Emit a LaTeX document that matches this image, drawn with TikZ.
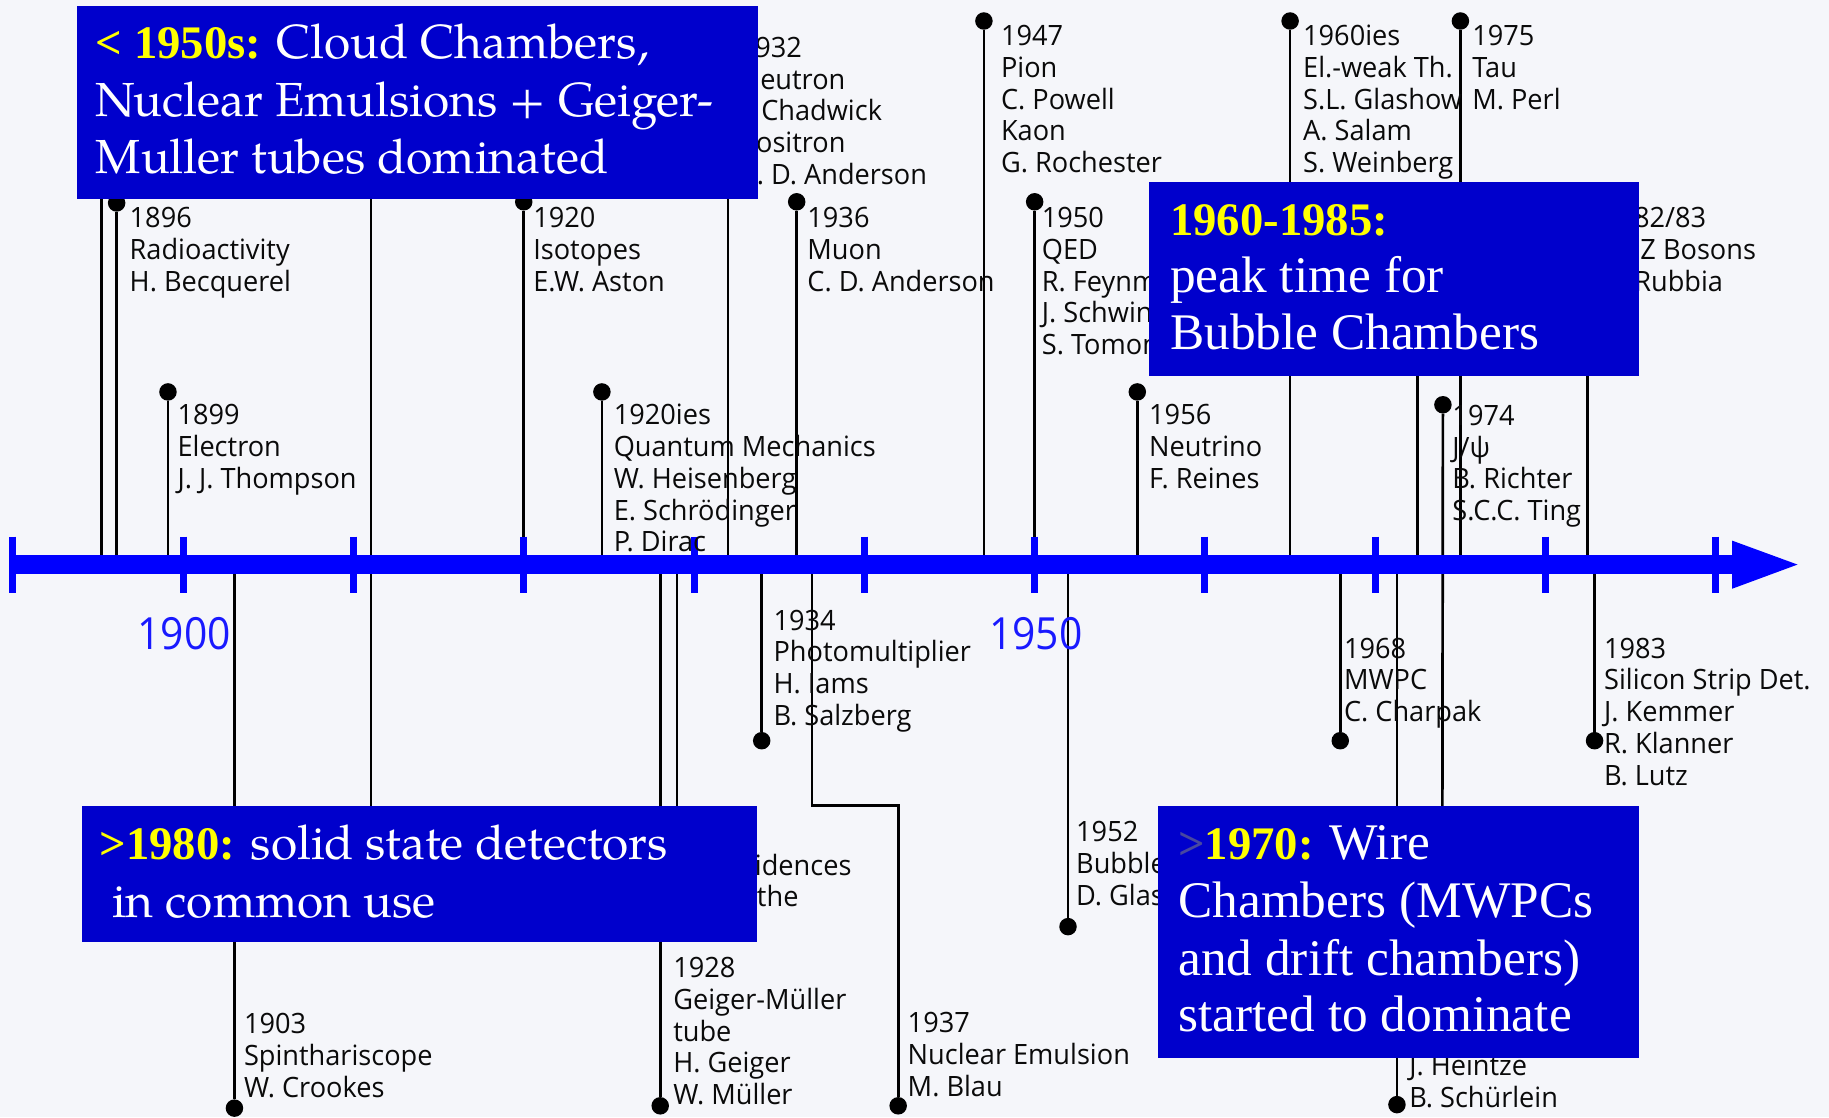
\documentclass[tikz,border=0pt]{standalone}
\usepackage{fontspec}
\newfontfamily\evfont{Open Sans}[FakeStretch=0.97]
\newfontfamily\yrfont{Open Sans}[FakeStretch=0.92]
\newfontfamily\palfont{texgyrepagella-regular.otf}
\newfontfamily\tmsfont{Liberation Serif}
\definecolor{bgc}{RGB}{245,246,250}
\definecolor{boxblue}{RGB}{0,0,204}
\definecolor{axblue}{RGB}{0,0,255}
\definecolor{yearblue}{RGB}{25,25,255}
\definecolor{hlyel}{RGB}{255,255,0}
\definecolor{gtblue}{RGB}{72,72,160}
\definecolor{evtext}{RGB}{10,10,10}
\newcommand{\ftop}{\rule{0pt}{20pt}}
\newcommand{\palf}{\palfont\fontsize{41}{49}\selectfont}
\newcommand{\tmsf}{\tmsfont\fontsize{44}{49}\selectfont}
\newcommand{\hlf}{\tmsfont\bfseries\fontsize{40}{49}\selectfont}
\begin{document}
\begin{tikzpicture}[x=1pt,y=-1pt,
  stem/.style={line width=2.3pt, draw=black},
  dotn/.style={circle, fill=black, inner sep=0pt, minimum size=15pt},
  evlab/.style={anchor=north west, inner sep=0pt, align=left, text=evtext, font=\evfont\fontsize{24}{27.2}\selectfont},
  yearlab/.style={inner sep=0pt, text=yearblue, font=\yrfont\fontsize{38}{40}\selectfont},
  bluebox/.style={fill=boxblue, draw=none, inner sep=0pt, anchor=north west},
  boxline/.style={anchor=base west, inner sep=0pt, text=white},
  axbar/.style={line width=17pt, draw=axblue},
  axtick/.style={line width=6pt, draw=axblue}]
\path[use as bounding box, fill=bgc] (0,0) rectangle (1568,958);

% ---------- dots ----------
\node[dotn] (d1896) at (100,174) {};
\node[dotn] (d1899) at (144,336) {};
\node[dotn] (d1920) at (449,173) {};
\node[dotn] (d1920ies) at (516,336) {};
\node[dotn] (d1936) at (683,173) {};
\node[dotn] (d1947) at (843.5,18) {};
\node[dotn] (d1950) at (887,173) {};
\node[dotn] (d1956) at (975,336) {};
\node[dotn] (d1960ies) at (1106,18) {};
\node[dotn] (d1974) at (1237,347) {};
\node[dotn] (d1975) at (1252,18) {};
\node[dotn] (d1903) at (201,950) {};
\node[dotn] (d1928) at (566,948) {};
\node[dotn] (d1934) at (653,635) {};
\node[dotn] (d1937) at (770,948) {};
\node[dotn] (d1952) at (915.6,794.4) {};
\node[dotn] (d1968) at (1149,635) {};
\node[dotn] (d1971) at (1197.6,947) {};
\node[dotn] (d1983) at (1367,635) {};

% ---------- axis coordinates ----------
\foreach \n/\x in {1896/100,1899/144,1920/449,1920ies/516,1936/683,1947/843.5,1950/887,1956/975,1960ies/1106,1975/1252,
  1903/201,1928/566,1934/653,1937/696,1952/915.6,1968/1149,1971/1197.6,1983/1367,
  h87/87,h624/624,h1215/1215,h1361/1361,h580/580.5}
  \coordinate (a\n) at (\x,484);
\coordinate (h87t) at (87,150);
\coordinate (h318t) at (318,150);
\coordinate (h318b) at (318,720);
\coordinate (h624t) at (624,100);
\coordinate (h1215t) at (1215,300);
\coordinate (h1361t) at (1361,250);
\coordinate (h580b) at (580.5,760);
\coordinate (h1236b) at (1236.5,720);
\coordinate (c37a) at (696,690.5);
\coordinate (c37b) at (770,690.5);

% ---------- stems ----------
\foreach \n in {1896,1899,1920,1920ies,1936,1947,1950,1956,1960ies,1975,1903,1928,1934,1952,1968,1971,1983}
  \draw[stem] (a\n) -- (d\n);
\draw[stem] (d1974) -- (h1236b);
\draw[stem] (a1937) -- (c37a) -- (c37b) -- (d1937);
\draw[stem] (ah87) -- (h87t);
\draw[stem] (h318t) -- (h318b);
\draw[stem] (ah624) -- (h624t);
\draw[stem] (ah1215) -- (h1215t);
\draw[stem] (ah1361) -- (h1361t);
\draw[stem] (ah580) -- (h580b);

% ---------- axis ----------
\coordinate (axL) at (8,484);
\coordinate (axR) at (1486,484);
\coordinate (tip) at (1541,484);
\draw[axbar] (axL) -- (axR);
\fill[axblue] (1485,463.5) -- (tip) -- (1485,504.7) -- cycle;
\foreach \k in {-1,...,9}
  \draw[axtick] ({157+146*\k},460) -- ({157+146*\k},508);
\node[yearlab] (y1900) at (158,543.5) {1900};
\node[yearlab] (y1950) at (888,543.5) {1950};

% ---------- labels above ----------
\node[evlab] (l1896) at (111,175) {\ftop 1896\\Radioactivity\\H. Becquerel};
\node[evlab] (l1899) at (152,344) {\ftop 1899\\Electron\\J. J. Thompson};
\node[evlab] (l1920) at (457,175) {\ftop 1920\\Isotopes\\E.W. Aston};
\node[evlab] (l1920ies) at (526,344) {\ftop 1920ies\\Quantum Mechanics\\W. Heisenberg\\E. Schrödinger\\P. Dirac};
\node[evlab] (l1932) at (634,29) {\ftop 1932\\Neutron\\J. Chadwick\\Positron\\C. D. Anderson};
\node[evlab] (l1936) at (692,175) {\ftop 1936\\Muon\\C. D. Anderson};
\node[evlab] (l1947) at (858,19) {\ftop 1947\\Pion\\C. Powell\\Kaon\\G. Rochester};
\node[evlab] (l1950) at (893,175) {\ftop 1950\\QED\\R. Feynman\\J. Schwinger\\S. Tomonaga};
\node[evlab] (l1956) at (985,344) {\ftop 1956\\Neutrino\\F. Reines};
\node[evlab] (l1960ies) at (1117,19) {\ftop 1960ies\\El.-weak Th.\\S.L. Glashow\\A. Salam\\S. Weinberg};
\node[evlab] (l1974) at (1245,344.6) {\ftop 1974\\J/ψ\\B. Richter\\S.C.C. Ting};
\node[evlab] (l1975) at (1262,19) {\ftop 1975\\Tau\\M. Perl};
\node[evlab] (l1982) at (1374,175) {\ftop 1982/83\\W, Z Bosons\\C. Rubbia};

% ---------- labels below ----------
\node[evlab] (l1903) at (209,866) {\ftop 1903\\Spinthariscope\\W. Crookes};
\node[evlab] (l1928) at (577,818) {\ftop 1928\\Geiger-Müller\\tube\\H. Geiger\\W. Müller};
\node[evlab] (l1929) at (587,730) {\ftop Coincidences\\W. Bothe};
\node[evlab] (l1934) at (663,520) {\ftop 1934\\Photomultiplier\\H. Iams\\B. Salzberg};
\node[evlab] (l1937) at (778,865) {\ftop 1937\\Nuclear Emulsion\\M. Blau};
\node[evlab] (l1952) at (922.4,701.5) {\ftop 1952\\Bubble Chamber\\D. Glaser};
\node[evlab] (l1968) at (1152,544) {\ftop 1968\\MWPC\\C. Charpak};
\node[evlab] (l1971) at (1208,902) {\ftop J. Heintze\\B. Schürlein};
\node[evlab] (l1983) at (1375,544) {\ftop 1983\\Silicon Strip Det.\\J. Kemmer\\R. Klanner\\B. Lutz};

% ---------- boxes ----------
\node[bluebox, minimum width=583.9pt, minimum height=165.4pt] (box50) at (65.6,4.6) {};
\node[bluebox, minimum width=420pt, minimum height=166pt] (box60) at (985,156) {};
\node[bluebox, minimum width=578.6pt, minimum height=116.5pt] (box80) at (70,690.5) {};
\node[bluebox, minimum width=412.3pt, minimum height=216.2pt] (box70) at (992.7,690.5) {};

\node[boxline] (t50a) at (82,50.5) {{\hlf\color{hlyel}< 1950s: }{\palf Cloud Chambers,}};
\node[boxline, font=\palf] (t50b) at (82,99.5) {Nuclear Emulsions + Geiger-};
\node[boxline, font=\palf] (t50c) at (82,149) {Muller tubes dominated};

\node[boxline] (t60a) at (1003,202) {\hlf\color{hlyel}1960-1985:};
\node[boxline, font=\tmsf] (t60b) at (1003,251) {peak time for};
\node[boxline, font=\tmsf] (t60c) at (1003,300) {Bubble Chambers};

\node[boxline] (t80a) at (85.3,737) {{\hlf\color{hlyel}>1980: }{\palf solid state detectors}};
\node[boxline, font=\palf] (t80b) at (96,786.8) {in common use};

\node[boxline] (t70a) at (1010,737) {{\hlf\color{gtblue}>}{\hlf\color{hlyel}1970: }{\tmsf Wire}};
\node[boxline, font=\tmsf] (t70b) at (1010,786.8) {Chambers (MWPCs};
\node[boxline, font=\tmsf] (t70c) at (1010,836) {and drift chambers)};
\node[boxline, font=\tmsf] (t70d) at (1010,884.7) {started to dominate};
\end{tikzpicture}
\end{document}
